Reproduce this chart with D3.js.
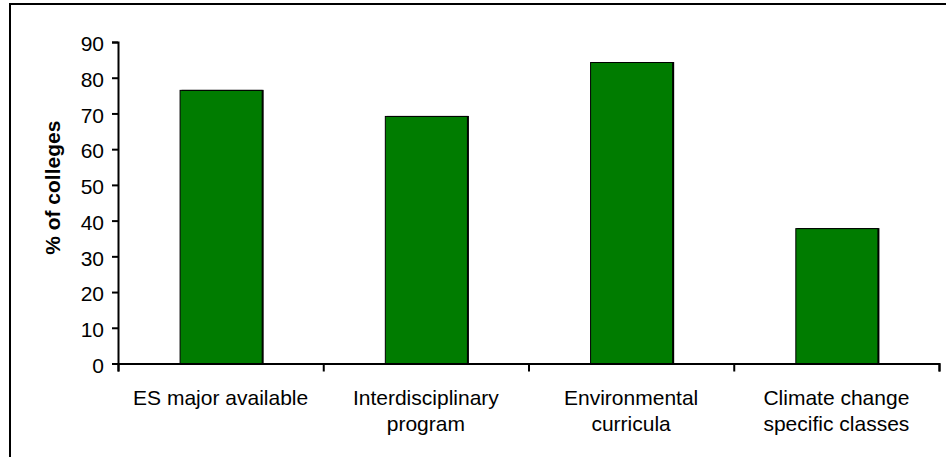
<!DOCTYPE html>
<html>
<head>
<meta charset="utf-8">
<script src="https://cdn.jsdelivr.net/npm/d3@7"></script>
<style>
  html, body { margin: 0; padding: 0; background: #fff; }
  svg { display: block; }
  text { font-family: "Liberation Sans", Arial, sans-serif; fill: #000; }
</style>
</head>
<body>
<svg id="chart" width="946" height="457"></svg>
<script>
// Share of colleges offering each type of environmental programme
const categories = [
  ["ES major available"],
  ["Interdisciplinary", "program"],
  ["Environmental", "curricula"],
  ["Climate change", "specific classes"]
];
const values = [76.6, 69.3, 84.4, 37.9];
const yTicks = [0, 10, 20, 30, 40, 50, 60, 70, 80, 90];
const yLabel = "% of colleges";

const svg = d3.select("#chart");
const W = 946, H = 457;
const plot = { left: 118, right: 939, top: 42, bottom: 363.5 };

// outer frame (right and bottom edges fall outside the view)
svg.append("rect")
  .attr("x", 10).attr("y", 4)
  .attr("width", W + 20).attr("height", H + 20)
  .attr("fill", "#fff")
  .attr("stroke", "#000")
  .attr("stroke-width", 2);

const x = d3.scaleBand()
  .domain(d3.range(categories.length))
  .range([plot.left, plot.right])
  .paddingInner(0.6)
  .paddingOuter(0.3);

const xTickScale = d3.scaleLinear()
  .domain([0, categories.length])
  .range([plot.left, plot.right]);

const y = d3.scaleLinear()
  .domain([0, 90])
  .range([plot.bottom, plot.top]);

// bars, with a thin drop shadow on the right edge
const bars = svg.append("g");
bars.selectAll("rect.shadow")
  .data(values)
  .join("rect")
  .attr("class", "shadow")
  .attr("x", (d, i) => x(i) + 2)
  .attr("y", d => y(d))
  .attr("width", x.bandwidth())
  .attr("height", d => plot.bottom - y(d))
  .attr("fill", "#000");
bars.selectAll("rect.bar")
  .data(values)
  .join("rect")
  .attr("class", "bar")
  .attr("x", (d, i) => x(i) + 0.5)
  .attr("y", d => y(d) + 0.5)
  .attr("width", x.bandwidth())
  .attr("height", d => plot.bottom - y(d))
  .attr("fill", "#007c00")
  .attr("stroke", "#000")
  .attr("stroke-width", 1);

// y axis
const yAxis = svg.append("g")
  .attr("transform", `translate(${plot.left},0)`)
  .call(d3.axisLeft(y).tickValues(yTicks).tickSize(6).tickPadding(8).tickFormat(d3.format("d")));
yAxis.select(".domain").attr("stroke", "#000").attr("stroke-width", 2);
yAxis.selectAll(".tick line").attr("stroke", "#000").attr("stroke-width", 2);
yAxis.selectAll(".tick text")
  .attr("font-size", 21)
  .attr("font-family", "Liberation Sans, Arial, sans-serif")
  .attr("dy", "0.42em");

// x axis: ticks mark the category boundaries
const xAxis = svg.append("g")
  .attr("transform", `translate(0,${plot.bottom})`)
  .call(d3.axisBottom(xTickScale).tickValues(d3.range(categories.length + 1)).tickSize(8).tickFormat(""));
xAxis.select(".domain").attr("stroke", "#000").attr("stroke-width", 2);
xAxis.selectAll(".tick line").attr("stroke", "#000").attr("stroke-width", 2);

// category labels
const labels = svg.append("g")
  .selectAll("text")
  .data(categories)
  .join("text")
  .attr("text-anchor", "middle")
  .attr("font-size", 21)
  .attr("x", (d, i) => x(i) + x.bandwidth() / 2)
  .attr("y", 405);
labels.selectAll("tspan")
  .data(d => d)
  .join("tspan")
  .attr("x", function () { return d3.select(this.parentNode).attr("x"); })
  .attr("dy", (d, i) => i === 0 ? 0 : 26)
  .text(d => d);

// y axis title
svg.append("text")
  .attr("transform", `translate(60,${(plot.top + plot.bottom) / 2 - 15}) rotate(-90)`)
  .attr("text-anchor", "middle")
  .attr("font-size", 21)
  .attr("font-weight", "bold")
  .text(yLabel);
</script>
</body>
</html>
